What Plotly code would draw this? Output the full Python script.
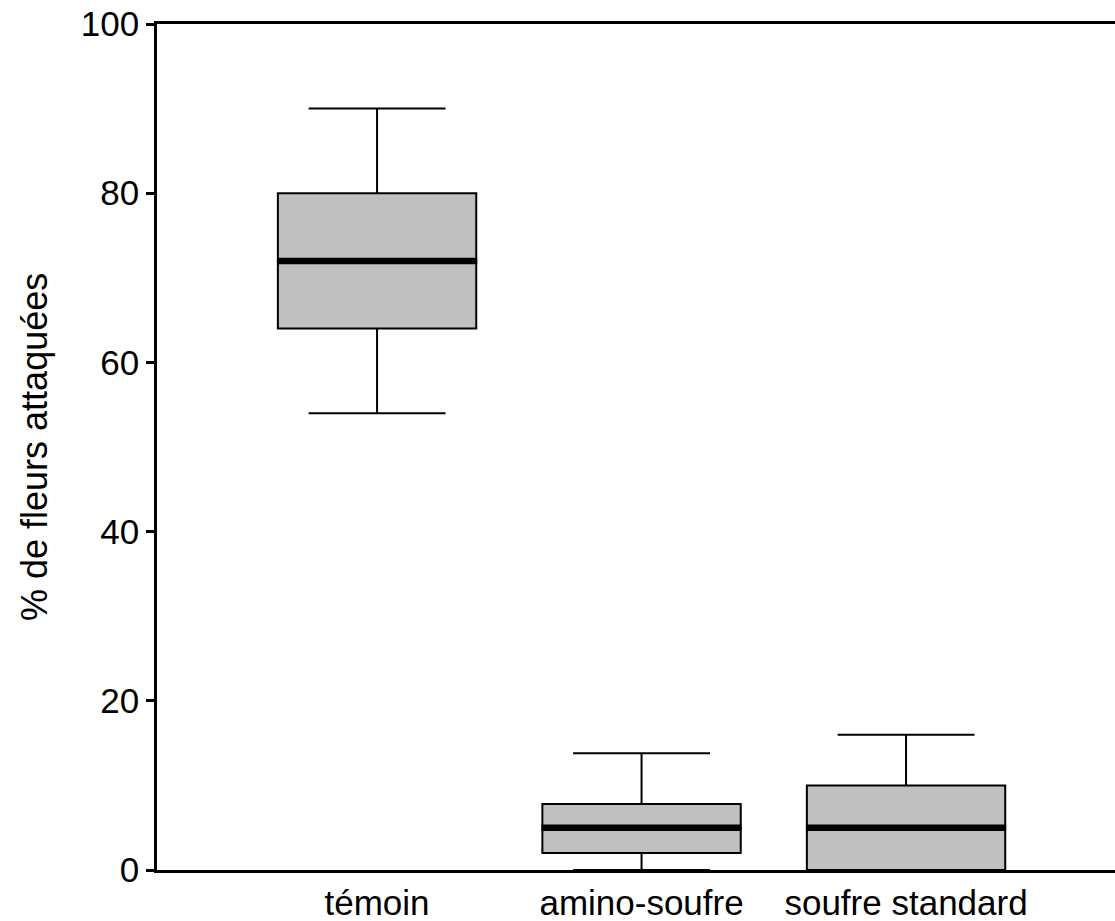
import plotly.graph_objects as go

categories = ["témoin", "amino-soufre", "soufre standard"]
lower_whisker = [54, 0, 0]
q1_values = [64, 2, 0]
median_values = [72, 5, 5]
q3_values = [80, 7.8, 10]
upper_whisker = [90, 13.8, 16]
y_ticks = [0, 20, 40, 60, 80, 100]

FONT = "Liberation Sans, Arial, sans-serif"

fig = go.Figure()
fig.add_trace(go.Box(
    x=categories,
    q1=q1_values,
    median=median_values,
    q3=q3_values,
    lowerfence=lower_whisker,
    upperfence=upper_whisker,
    fillcolor="#C0C0C0",
    line=dict(color="black", width=2),
    width=0.75,
    whiskerwidth=0.69,
    boxpoints=False,
    hoverinfo="skip",
    showlegend=False,
))
# thick median lines
fig.add_trace(go.Scatter(
    x=categories,
    y=median_values,
    mode="markers",
    marker=dict(symbol="line-ew", size=143, color="black",
                line=dict(color="black", width=6.5)),
    hoverinfo="skip",
    showlegend=False,
    cliponaxis=False,
))

fig.update_layout(
    width=1115, height=921,
    margin=dict(l=157, r=0, t=24, b=51),
    paper_bgcolor="white",
    plot_bgcolor="white",
    font=dict(family=FONT, size=34, color="black"),
    xaxis=dict(
        type="category",
        range=[-0.832, 2.79],
        showline=True, linecolor="black", linewidth=2.5,
        mirror=True,
        ticks="", showgrid=False, zeroline=False,
        tickfont=dict(size=35),
    ),
    yaxis=dict(
        range=[0, 100],
        tickvals=y_ticks,
        showline=True, linecolor="black", linewidth=2.5,
        ticks="outside", ticklen=8, tickwidth=3, tickcolor="black",
        showgrid=False, zeroline=False,
        tickfont=dict(size=35),
    ),
    annotations=[dict(
        text="% de fleurs attaquées",
        xref="paper", yref="paper",
        x=(34 - 157) / 958, y=0.5,
        xanchor="center", yanchor="middle",
        textangle=-90, showarrow=False,
        font=dict(family=FONT, size=36, color="black"),
    )],
)

fig.write_html(
    "out.html",
    config={"displayModeBar": False},
    post_script="document.body.style.margin='0';document.body.style.padding='0';document.body.style.overflow='hidden';",
)
